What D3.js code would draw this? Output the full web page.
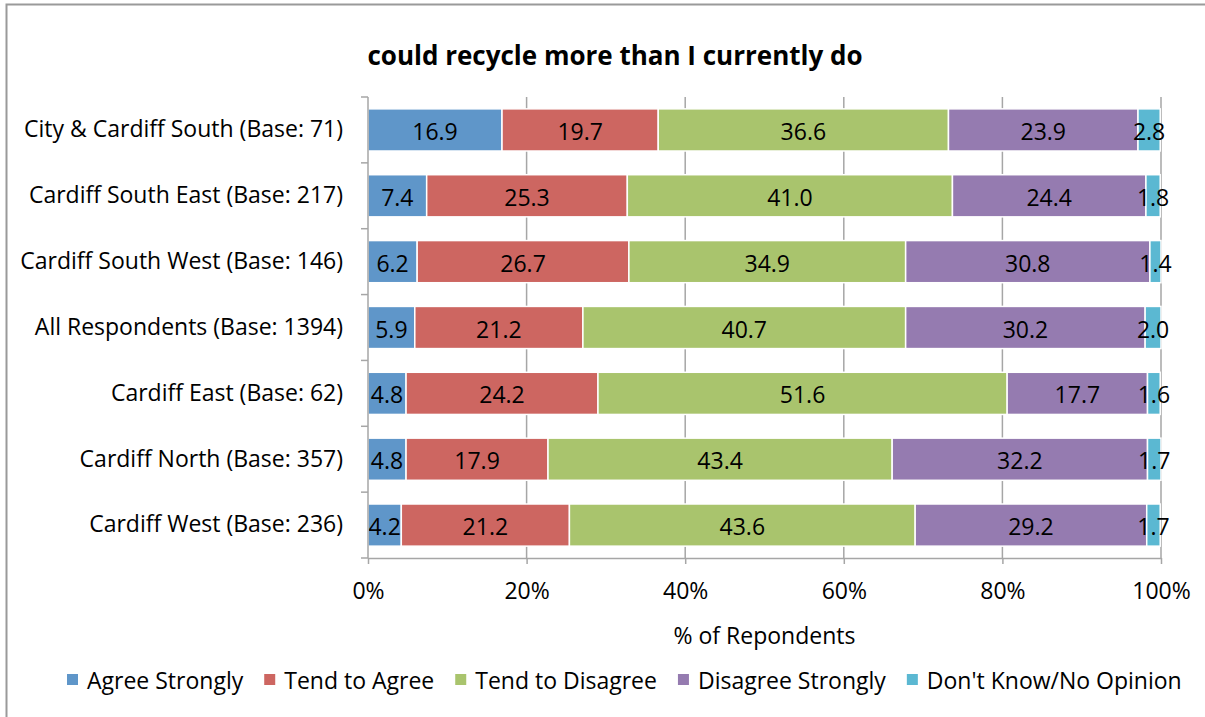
<!DOCTYPE html>
<html><head><meta charset="utf-8">
<script src="https://cdn.jsdelivr.net/npm/d3@7"></script>
<style>body{margin:0;background:#fff}svg{display:block}text{font-family:"Open Sans",sans-serif;fill:#000}</style>
</head><body><svg id="c" width="1205" height="717"></svg>
<script>
const categories = ["City & Cardiff South (Base: 71)","Cardiff South East (Base: 217)","Cardiff South West (Base: 146)","All Respondents (Base: 1394)","Cardiff East (Base: 62)","Cardiff North (Base: 357)","Cardiff West (Base: 236)"];
const seriesNames = ["Agree Strongly","Tend to Agree","Tend to Disagree","Disagree Strongly","Don't Know/No Opinion"];
const agreeStrongly = [16.9,7.4,6.2,5.9,4.8,4.8,4.2];
const tendToAgree = [19.7,25.3,26.7,21.2,24.2,17.9,21.2];
const tendToDisagree = [36.6,41.0,34.9,40.7,51.6,43.4,43.6];
const disagreeStrongly = [23.9,24.4,30.8,30.2,17.7,32.2,29.2];
const dontKnow = [2.8,1.8,1.4,2.0,1.6,1.7,1.7];
const tickValues = [0,20,40,60,80,100];
const colors = ["#5f96c9","#cd6661","#a9c46d","#957bb0","#5bb8d2"];
const title = "could recycle more than I currently do";
const xTitle = "% of Repondents";

const seriesValues = [agreeStrongly,tendToAgree,tendToDisagree,disagreeStrongly,dontKnow];
const table = categories.map((c,i)=>{const o={cat:c};seriesNames.forEach((s,j)=>o[s]=seriesValues[j][i]);return o;});
const stacked = d3.stack().keys(seriesNames)(table);

const svg = d3.select("#c");
svg.append("rect").attr("x",6.5).attr("y",4.5).attr("width",1400).attr("height",900).attr("fill","#fff").attr("stroke","#9a9a9a").attr("stroke-width",2);

const L=368,R=1161,T=97,B=558;
const FS = "23px";
const x = d3.scaleLinear().domain([0,100]).range([L,R]);
const y = d3.scaleBand().domain(categories).range([T,B]).paddingInner(0.36).paddingOuter(0.18);

svg.append("g").selectAll("line").data(tickValues.slice(1)).join("line")
  .attr("x1",d=>x(d)).attr("x2",d=>x(d)).attr("y1",T).attr("y2",B)
  .attr("stroke","#a6a6a6").attr("stroke-width",1.5);

const g = svg.append("g");
stacked.forEach((s,j)=>{
  g.append("g").selectAll("rect").data(s).join("rect")
    .attr("x",d=>x(d[0])).attr("width",d=>x(d[1])-x(d[0]))
    .attr("y",d=>y(d.data.cat)).attr("height",y.bandwidth())
    .attr("fill",colors[j]).attr("stroke","#fff").attr("stroke-width",1.5);
});
stacked.forEach((s,j)=>{
  g.append("g").selectAll("text").data(s).join("text")
    .attr("x",d=>(x(d[0])+x(d[1]))/2).attr("y",d=>y(d.data.cat)+y.bandwidth()/2+1)
    .attr("text-anchor","middle").attr("dominant-baseline","central")
    .style("font-size",FS).text(d=>d3.format(".1f")(d.data[s.key]));
});

const xa = svg.append("g").attr("transform",`translate(0,${B})`)
  .call(d3.axisBottom(x).tickValues(tickValues).tickFormat(d=>d+"%").tickSizeInner(6).tickSizeOuter(0).tickPadding(19));
xa.select(".domain").attr("stroke","#a6a6a6").attr("stroke-width",1.5);
xa.selectAll(".tick line").attr("stroke","#a6a6a6").attr("stroke-width",1.5);
xa.selectAll("text").style("font-size",FS).attr("fill","#000");

const ya = svg.append("g").attr("transform",`translate(${L},0)`)
  .call(d3.axisLeft(y).tickSize(0).tickPadding(25));
ya.select(".domain").attr("stroke","#a6a6a6").attr("stroke-width",1.5).attr("d",`M0,${T}V${B}`);
ya.selectAll("text").style("font-size",FS).attr("fill","#000");
ya.append("g").selectAll("line").data(d3.range(categories.length+1)).join("line")
  .attr("x1",-7).attr("x2",0).attr("y1",i=>T+i*(B-T)/categories.length).attr("y2",i=>T+i*(B-T)/categories.length)
  .attr("stroke","#a6a6a6").attr("stroke-width",1.5);

svg.append("text").attr("x",615).attr("y",55).attr("text-anchor","middle").attr("dominant-baseline","central")
  .style("font-size","26px").style("font-weight","bold").text(title);
svg.append("text").attr("x",(L+R)/2).attr("y",635).attr("text-anchor","middle").attr("dominant-baseline","central")
  .style("font-size",FS).text(xTitle);

const lg = svg.append("g");
let lx = 67;
seriesNames.forEach((s,j)=>{
  lg.append("rect").attr("x",lx).attr("y",674).attr("width",11).attr("height",11).attr("fill",colors[j]);
  const t = lg.append("text").attr("x",lx+20).attr("y",680).attr("dominant-baseline","central").style("font-size",FS).text(s);
  lx += 20 + t.node().getComputedTextLength() + 21;
});
</script></body></html>
